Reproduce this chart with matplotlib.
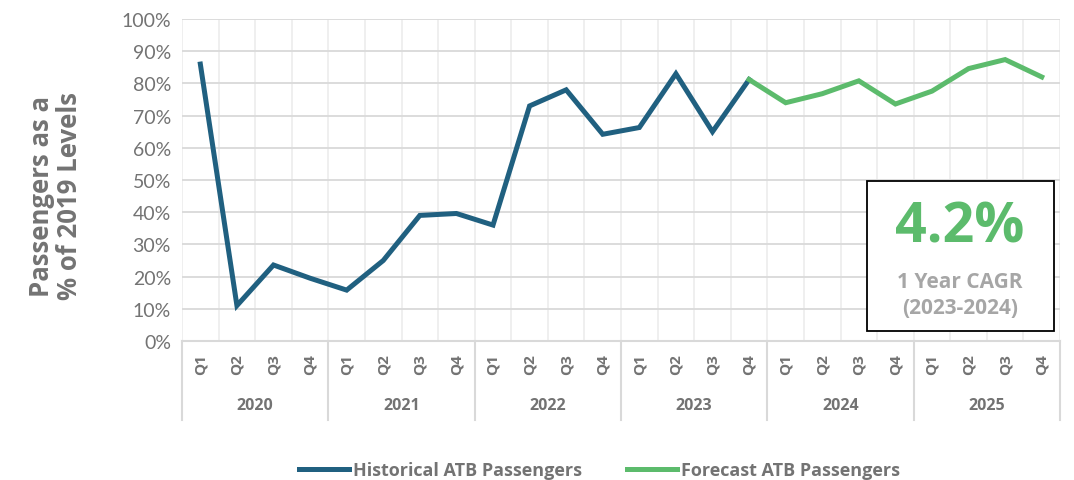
import matplotlib
matplotlib.use('Agg')
import matplotlib.pyplot as plt
import matplotlib.transforms as mtransforms
from matplotlib.patches import Rectangle
from matplotlib.ticker import MultipleLocator, FixedLocator, PercentFormatter
import numpy as np

plt.rcParams['font.family'] = ['Lato', 'DejaVu Sans']
BOLD = ['Open Sans', 'DejaVu Sans']

years = ['2020', '2021', '2022', '2023', '2024', '2025']
quarters = ['Q1', 'Q2', 'Q3', 'Q4']

historical = [86, 11, 23.6, 19.5, 15.8, 25, 39, 39.6, 36, 73, 78, 64.2, 66.3, 83, 65, 81.2]
forecast = [81.2, 74, 76.8, 80.8, 73.6, 77.6, 84.6, 87.4, 82]

blue = '#206080'
green = '#5cbb6c'
grey = '#737373'

n = len(years) * len(quarters)
x = np.arange(n)
x_hist = x[:len(historical)]
x_fc = x[len(historical) - 1:len(historical) - 1 + len(forecast)]

fig = plt.figure(figsize=(10.74, 4.81), dpi=100)
ax = fig.add_axes([0.1695, 0.289, 0.8175, 0.6694])

line1, = ax.plot(x_hist, historical, color=blue, lw=3.6, solid_joinstyle='miter',
                 label='Historical ATB Passengers', zorder=3)
line2, = ax.plot(x_fc, forecast, color=green, lw=3.6, solid_joinstyle='miter',
                 label='Forecast ATB Passengers', zorder=3)

ax.set_xlim(-0.5, n - 0.5)
ax.set_ylim(0, 100)
ax.yaxis.set_major_locator(MultipleLocator(10))
ax.yaxis.set_major_formatter(PercentFormatter(decimals=0))
ax.tick_params(axis='y', length=0, labelsize=14, labelcolor=grey, pad=8)

ax.set_xticks(x)
ax.set_xticklabels(quarters * len(years), rotation=90, fontsize=11,
                   fontweight='bold', color=grey, family=BOLD)
ax.tick_params(axis='x', length=0, pad=9)
ax.xaxis.set_minor_locator(FixedLocator(np.arange(n + 1) - 0.5))
ax.tick_params(axis='x', which='minor', length=0)

ax.grid(axis='y', which='major', color='#d9d9d9', lw=1.3)
ax.grid(axis='x', which='minor', color='#eeeeee', lw=1.3)
ax.grid(axis='x', which='major', visible=False)
ax.set_axisbelow(True)

for side in ['top', 'right', 'left']:
    ax.spines[side].set_visible(False)
ax.spines['bottom'].set_color('#d9d9d9')
ax.spines['bottom'].set_linewidth(1.5)

# year group labels and separators
trans = mtransforms.blended_transform_factory(ax.transData, ax.transAxes)
for i, yr in enumerate(years):
    ax.text(i * 4 + 1.5, -0.2, yr, transform=trans, ha='center', va='center',
            fontsize=11.5, fontweight='bold', color=grey, family=BOLD)
for k in range(len(years) + 1):
    ax.plot([k * 4 - 0.5, k * 4 - 0.5], [0, -0.245], transform=trans,
            color='#d9d9d9', lw=1.5, clip_on=False)

fig.text(0.052, 0.592, 'Passengers as a\n% of 2019 Levels', rotation=90,
         ha='center', va='center', fontsize=18.5, fontweight='bold', color=grey,
         linespacing=1.05, family=BOLD)

# CAGR callout box
box = Rectangle((867 / 1074, 1 - 332 / 481), (1054 - 867) / 1074, (332 - 182) / 481,
                transform=fig.transFigure, facecolor='white', edgecolor='black',
                lw=1.3, zorder=5)
fig.patches.append(box)
fig.text(960 / 1074, 1 - 228 / 481, '4.2%', ha='center', va='center',
         fontsize=40, fontweight='bold', color=green, zorder=6, family=BOLD)
fig.text(960 / 1074, 1 - 282 / 481, '1 Year CAGR', ha='center', va='center',
         fontsize=15, fontweight='bold', color='#a6a6a6', zorder=6, family=BOLD)
fig.text(960 / 1074, 1 - 308 / 481, '(2023-2024)', ha='center', va='center',
         fontsize=15, fontweight='bold', color='#a6a6a6', zorder=6, family=BOLD)

leg = fig.legend(handles=[line1, line2], loc='center', bbox_to_anchor=(0.558, 0.02),
                 ncol=2, frameon=False, handlelength=2.8, handletextpad=0.2,
                 columnspacing=2.5, prop={'size': 13, 'weight': 'bold', 'family': BOLD})
for t in leg.get_texts():
    t.set_color(grey)

fig.savefig('out.png', dpi=100)
